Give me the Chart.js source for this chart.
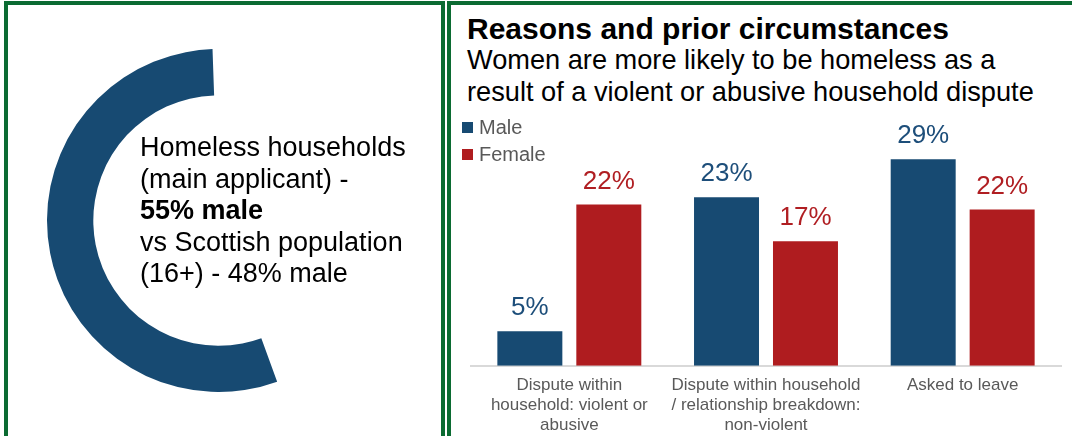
<!DOCTYPE html>
<html>
<head>
<meta charset="utf-8">
<script src="https://cdn.jsdelivr.net/npm/chart.js@4.4.1/dist/chart.umd.min.js"></script>
<style>
  body { margin: 0; width: 1072px; height: 436px; overflow: hidden; background: #fff;
         font-family: "Liberation Sans", Arial, sans-serif; position: relative; }
  .panel { position: absolute; top: 1px; height: 480px; box-sizing: border-box;
           border: 4px solid #0B6B32; border-bottom: none; }
  #leftPanel { left: 4px; width: 441px; }
  #rightPanel { left: 447px; width: 700px; }
  #donutText { position: absolute; left: 140px; top: 132px; font-size: 27px; line-height: 31.5px; color: #000; }
  #title { position: absolute; left: 467px; top: 12px; font-size: 30px; font-weight: bold; color: #000; }
  #subtitle { position: absolute; left: 467px; top: 44px; font-size: 27.2px; line-height: 32px; color: #000; }
  canvas { position: absolute; }
  #donut { left: 47px; top: 49px; }
  #bars { left: 452px; top: 111px; }
</style>
</head>
<body>
<div class="panel" id="leftPanel"></div>
<div class="panel" id="rightPanel"></div>
<canvas id="donut" width="343" height="343"></canvas>
<div id="donutText">Homeless households<br>(main applicant) -<br><b>55% male</b><br>vs Scottish population<br>(16+) - 48% male</div>
<div id="title">Reasons and prior circumstances</div>
<div id="subtitle">Women are more likely to be homeless as a<br>result of a violent or abusive household dispute</div>
<canvas id="bars" width="620" height="332"></canvas>
<script>
var donutLabels = ["Not male", "Male"];
var donutValues = [45, 55];

var categories = [
    ["Dispute within", "household: violent or", "abusive"],
    ["Dispute within household", "/ relationship breakdown:", "non-violent"],
    ["Asked to leave"]
];
var seriesNames = ["Male", "Female"];
var maleValues = [4.8, 23.4, 28.7];
var femaleValues = [22.4, 17.3, 21.7];

var blue = "#174A72";
var red = "#AF1C1F";
var fontFamily = "'Liberation Sans', Arial, sans-serif";

/* doughnut on the left */
new Chart(document.getElementById("donut"), {
    type: "doughnut",
    data: {
        labels: donutLabels,
        datasets: [{
            data: donutValues,
            backgroundColor: ["rgba(0,0,0,0)", blue],
            borderWidth: 0
        }]
    },
    options: {
        responsive: false,
        animation: false,
        cutout: "73%",
        rotation: -2,
        plugins: { legend: { display: false }, tooltip: { enabled: false } }
    }
});

/* value labels above each bar */
var barLabels = {
    id: "barLabels",
    afterDatasetsDraw: function (chart) {
        var ctx = chart.ctx;
        ctx.save();
        ctx.font = "26px " + fontFamily;
        ctx.textAlign = "center";
        ctx.textBaseline = "alphabetic";
        chart.data.datasets.forEach(function (ds, i) {
            var meta = chart.getDatasetMeta(i);
            ctx.fillStyle = ds.labelColor;
            meta.data.forEach(function (bar, j) {
                ctx.fillText(Math.round(ds.data[j]) + "%", bar.x, bar.y - 16);
            });
        });
        ctx.restore();
    }
};

/* stacked legend in the top left corner */
var cornerLegend = {
    id: "cornerLegend",
    afterDraw: function (chart) {
        var ctx = chart.ctx;
        var x = chart.chartArea.left - 9;
        var y = 11;
        ctx.save();
        ctx.font = "20px " + fontFamily;
        ctx.textBaseline = "alphabetic";
        chart.data.datasets.forEach(function (ds, i) {
            ctx.fillStyle = ds.backgroundColor;
            ctx.fillRect(x, y + i * 27, 11, 11);
            ctx.fillStyle = "#595959";
            ctx.fillText(ds.label, x + 17, y + i * 27 + 12);
        });
        ctx.restore();
    }
};

new Chart(document.getElementById("bars"), {
    type: "bar",
    data: {
        labels: categories,
        datasets: [{
            label: seriesNames[0],
            data: maleValues,
            backgroundColor: blue,
            labelColor: "#1D4E7A",
            categoryPercentage: 0.803,
            barPercentage: 0.823
        }, {
            label: seriesNames[1],
            data: femaleValues,
            backgroundColor: red,
            labelColor: "#B01E22",
            categoryPercentage: 0.803,
            barPercentage: 0.823
        }]
    },
    options: {
        responsive: false,
        animation: false,
        layout: { padding: { left: 19, right: 11, top: 10, bottom: 6 } },
        scales: {
            x: {
                grid: { display: false },
                border: { display: true, color: "#D9D9D9", width: 2 },
                ticks: {
                    color: "#595959",
                    font: { family: fontFamily, size: 17, lineHeight: 1.2 },
                    padding: 1,
                    maxRotation: 0,
                    autoSkip: false
                }
            },
            y: { display: false, min: 0, max: 34 }
        },
        plugins: { legend: { display: false }, tooltip: { enabled: false } }
    },
    plugins: [barLabels, cornerLegend]
});
</script>
</body>
</html>
